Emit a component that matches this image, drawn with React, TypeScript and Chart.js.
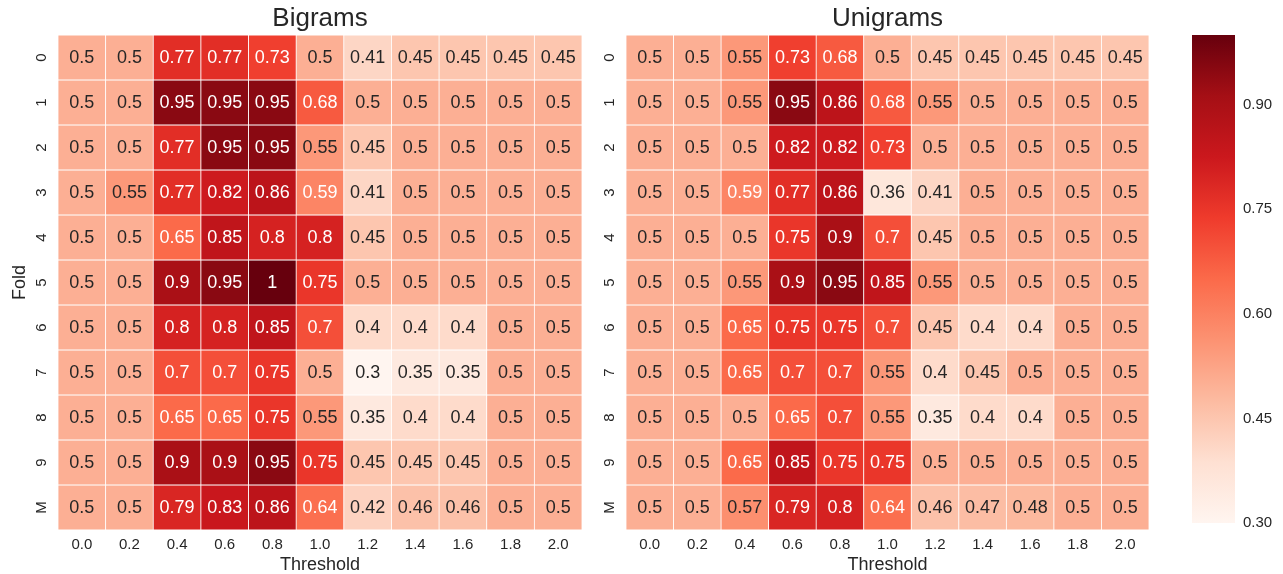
import React, { useEffect, useRef } from 'react';
import { Chart, registerables } from 'chart.js';

Chart.register(...registerables);

const thresholds = ['0.0', '0.2', '0.4', '0.6', '0.8', '1.0', '1.2', '1.4', '1.6', '1.8', '2.0'];
const folds = ['0', '1', '2', '3', '4', '5', '6', '7', '8', '9', 'M'];

const bigrams: number[][] = [
  [0.5, 0.5, 0.77, 0.77, 0.73, 0.5, 0.41, 0.45, 0.45, 0.45, 0.45],
  [0.5, 0.5, 0.95, 0.95, 0.95, 0.68, 0.5, 0.5, 0.5, 0.5, 0.5],
  [0.5, 0.5, 0.77, 0.95, 0.95, 0.55, 0.45, 0.5, 0.5, 0.5, 0.5],
  [0.5, 0.55, 0.77, 0.82, 0.86, 0.59, 0.41, 0.5, 0.5, 0.5, 0.5],
  [0.5, 0.5, 0.65, 0.85, 0.8, 0.8, 0.45, 0.5, 0.5, 0.5, 0.5],
  [0.5, 0.5, 0.9, 0.95, 1.0, 0.75, 0.5, 0.5, 0.5, 0.5, 0.5],
  [0.5, 0.5, 0.8, 0.8, 0.85, 0.7, 0.4, 0.4, 0.4, 0.5, 0.5],
  [0.5, 0.5, 0.7, 0.7, 0.75, 0.5, 0.3, 0.35, 0.35, 0.5, 0.5],
  [0.5, 0.5, 0.65, 0.65, 0.75, 0.55, 0.35, 0.4, 0.4, 0.5, 0.5],
  [0.5, 0.5, 0.9, 0.9, 0.95, 0.75, 0.45, 0.45, 0.45, 0.5, 0.5],
  [0.5, 0.5, 0.79, 0.83, 0.86, 0.64, 0.42, 0.46, 0.46, 0.5, 0.5],
];

const unigrams: number[][] = [
  [0.5, 0.5, 0.55, 0.73, 0.68, 0.5, 0.45, 0.45, 0.45, 0.45, 0.45],
  [0.5, 0.5, 0.55, 0.95, 0.86, 0.68, 0.55, 0.5, 0.5, 0.5, 0.5],
  [0.5, 0.5, 0.5, 0.82, 0.82, 0.73, 0.5, 0.5, 0.5, 0.5, 0.5],
  [0.5, 0.5, 0.59, 0.77, 0.86, 0.36, 0.41, 0.5, 0.5, 0.5, 0.5],
  [0.5, 0.5, 0.5, 0.75, 0.9, 0.7, 0.45, 0.5, 0.5, 0.5, 0.5],
  [0.5, 0.5, 0.55, 0.9, 0.95, 0.85, 0.55, 0.5, 0.5, 0.5, 0.5],
  [0.5, 0.5, 0.65, 0.75, 0.75, 0.7, 0.45, 0.4, 0.4, 0.5, 0.5],
  [0.5, 0.5, 0.65, 0.7, 0.7, 0.55, 0.4, 0.45, 0.5, 0.5, 0.5],
  [0.5, 0.5, 0.5, 0.65, 0.7, 0.55, 0.35, 0.4, 0.4, 0.5, 0.5],
  [0.5, 0.5, 0.65, 0.85, 0.75, 0.75, 0.5, 0.5, 0.5, 0.5, 0.5],
  [0.5, 0.5, 0.57, 0.79, 0.8, 0.64, 0.46, 0.47, 0.48, 0.5, 0.5],
];

const colorbarTicks = [0.3, 0.45, 0.6, 0.75, 0.9];
const colorMin = 0.3;
const colorMax = 1.0;
const redsStops = ['#fff5f0', '#fee0d2', '#fcbba1', '#fc9272', '#fb6a4a', '#ef3b2c', '#cb181d', '#a50f15', '#67000d'];

const FONT = "'Liberation Sans', Arial, Helvetica, sans-serif";
const TEXT = '#262626';

function hexToRgb(h: string): number[] {
  return [parseInt(h.slice(1, 3), 16), parseInt(h.slice(3, 5), 16), parseInt(h.slice(5, 7), 16)];
}

function colorRgb(v: number): number[] {
  let t = (v - colorMin) / (colorMax - colorMin);
  t = Math.max(0, Math.min(1, t));
  const pos = t * (redsStops.length - 1);
  const i = Math.min(Math.floor(pos), redsStops.length - 2);
  const f = pos - i;
  const a = hexToRgb(redsStops[i]);
  const b = hexToRgb(redsStops[i + 1]);
  return [0, 1, 2].map((k) => Math.round(a[k] + (b[k] - a[k]) * f));
}

function colorFor(v: number): string {
  const [r, g, b] = colorRgb(v);
  return `rgb(${r},${g},${b})`;
}

function textColorFor(v: number): string {
  const lin = colorRgb(v).map((c) => {
    const x = c / 255;
    return x <= 0.03928 ? x / 12.92 : Math.pow((x + 0.055) / 1.055, 2.4);
  });
  const lum = 0.2126 * lin[0] + 0.7152 * lin[1] + 0.0722 * lin[2];
  return lum > 0.408 ? TEXT : '#ffffff';
}

function fmt(v: number): string {
  return String(Number(v.toPrecision(2)));
}

function makeAnnotPlugin(values: number[][]) {
  return {
    id: 'cellAnnot',
    afterDatasetsDraw(chart: any) {
      const ctx = chart.ctx;
      ctx.save();
      ctx.font = `18px ${FONT}`;
      ctx.textAlign = 'center';
      ctx.textBaseline = 'middle';
      chart.data.datasets.forEach((_ds: any, di: number) => {
        const meta = chart.getDatasetMeta(di);
        meta.data.forEach((el: any, ci: number) => {
          const v = values[di][ci];
          const p = el.getProps(['x', 'y', 'base'], true);
          ctx.fillStyle = textColorFor(v);
          ctx.fillText(fmt(v), p.x, (p.y + p.base) / 2 + 1);
        });
      });
      ctx.restore();
    },
  };
}

type HeatProps = { title: string; values: number[][]; showYTitle: boolean; left: number; width: number; rightPad: number };

function Heatmap({ title, values, showYTitle, left, width, rightPad }: HeatProps) {
  const ref = useRef<HTMLCanvasElement | null>(null);
  useEffect(() => {
    if (!ref.current) return;
    const chart = new Chart(ref.current, {
      type: 'bar',
      data: {
        labels: thresholds,
        datasets: folds.map((f, i) => ({
          label: f,
          data: thresholds.map(() => [i, i + 1]),
          backgroundColor: values[i].map(colorFor),
          borderColor: '#ffffff',
          borderWidth: 0.75,
          borderSkipped: false,
          grouped: false,
          barPercentage: 1,
          categoryPercentage: 1,
        })),
      } as any,
      options: {
        animation: false,
        responsive: false,
        maintainAspectRatio: false,
        layout: { padding: { left: 0, right: rightPad, top: 0, bottom: 0 } },
        plugins: {
          legend: { display: false },
          tooltip: { enabled: false },
          title: {
            display: true,
            text: title,
            fullSize: false,
            color: TEXT,
            font: { size: 26, family: FONT, weight: 'normal' },
            padding: { top: 3, bottom: 0.8 },
          },
        },
        scales: {
          x: {
            type: 'category',
            offset: true,
            grid: { display: false, drawTicks: false },
            border: { display: false },
            ticks: { color: TEXT, font: { size: 15, family: FONT }, padding: 6, minRotation: 0, maxRotation: 0, autoSkip: false },
            title: { display: true, text: 'Threshold', color: TEXT, font: { size: 18, family: FONT }, padding: { top: 0, bottom: -1.5 } },
            afterFit: (s: any) => { s.height = 44; },
          },
          y: {
            type: 'linear',
            min: 0,
            max: folds.length,
            reverse: true,
            grid: { display: false, drawTicks: false },
            border: { display: false },
            ticks: {
              color: TEXT,
              font: { size: 15, family: FONT },
              minRotation: 90,
              maxRotation: 90,
              crossAlign: 'center',
              padding: 10,
              autoSkip: false,
              callback: (_v: any, i: number) => folds[i],
            },
            afterBuildTicks: (s: any) => { s.ticks = folds.map((_f, i) => ({ value: i + 0.5 })); },
            afterFit: (s: any) => { s.width = 58; },
            title: { display: showYTitle, text: 'Fold', color: TEXT, font: { size: 18, family: FONT }, padding: { top: 9, bottom: 0 } },
          },
        },
      } as any,
      plugins: [makeAnnotPlugin(values)],
    });
    return () => chart.destroy();
  }, []);
  return <canvas ref={ref} width={width} height={574} style={{ position: 'absolute', left, top: 0, width, height: 574 }} />;
}

function Colorbar() {
  const ref = useRef<HTMLCanvasElement | null>(null);
  useEffect(() => {
    if (!ref.current) return;
    const chart = new Chart(ref.current, {
      type: 'bar',
      data: {
        labels: [''],
        datasets: [{
          data: [[colorMin, colorMax]],
          backgroundColor: (c: any) => {
            const a = c.chart.chartArea;
            if (!a) return redsStops[4];
            const g = c.chart.ctx.createLinearGradient(0, a.bottom, 0, a.top);
            redsStops.forEach((s, k) => g.addColorStop(k / (redsStops.length - 1), s));
            return g;
          },
          borderWidth: 0,
          barPercentage: 1,
          categoryPercentage: 1,
        }],
      } as any,
      options: {
        animation: false,
        responsive: false,
        maintainAspectRatio: false,
        layout: { padding: { left: 12, right: 0, top: 35, bottom: 51 } },
        plugins: { legend: { display: false }, tooltip: { enabled: false } },
        scales: {
          x: { display: false, offset: true },
          y: {
            type: 'linear',
            position: 'right',
            min: colorMin,
            max: colorMax,
            grid: { display: false, drawTicks: false },
            border: { display: false },
            ticks: { color: TEXT, font: { size: 15, family: FONT }, padding: 8, callback: (v: any) => Number(v).toFixed(2) },
            afterBuildTicks: (s: any) => { s.ticks = colorbarTicks.map((v) => ({ value: v })); },
            afterFit: (s: any) => { s.width = 48; },
          },
        },
      } as any,
    });
    return () => chart.destroy();
  }, []);
  return <canvas ref={ref} width={103} height={574} style={{ position: 'absolute', left: 1180, top: 0, width: 103, height: 574 }} />;
}

export default function App() {
  return (
    <div style={{ position: 'fixed', left: 0, top: 0, width: 1283, height: 574, background: '#ffffff', overflow: 'hidden' }}>
      <Heatmap title="Bigrams" values={bigrams} showYTitle={true} left={0} width={600} rightPad={18} />
      <Heatmap title="Unigrams" values={unigrams} showYTitle={false} left={568} width={600} rightPad={19} />
      <Colorbar />
    </div>
  );
}
